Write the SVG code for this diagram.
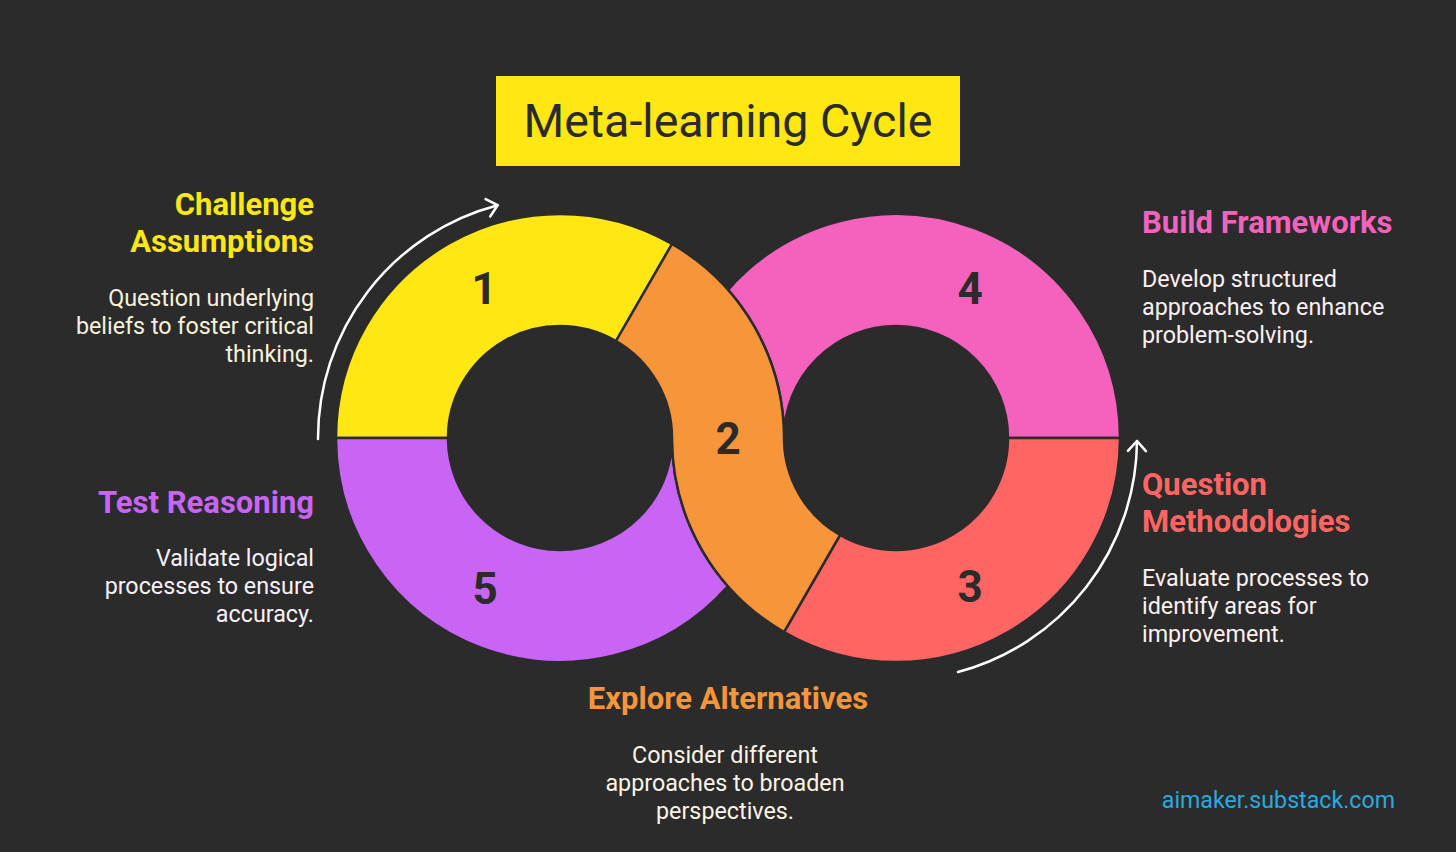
<svg xmlns="http://www.w3.org/2000/svg" width="1456" height="852" viewBox="0 0 1456 852">
<defs>
<style>
.seg{stroke:#2b2b2b;stroke-width:2.5;stroke-linejoin:round}
.num{font-family:Roboto,"Liberation Sans",sans-serif;font-weight:700;font-size:44px;fill:#2b2b2b;text-anchor:middle}
.head{font-family:Roboto,"Liberation Sans",sans-serif;font-weight:700;font-size:31px}
.desc{font-family:Roboto,"Liberation Sans",sans-serif;font-size:23.3px}
.r{text-anchor:end}
.m{text-anchor:middle}
.arrow{fill:none;stroke:#ffffff;stroke-width:2.5;stroke-linecap:round}
</style>
<marker id="chev" markerUnits="userSpaceOnUse" markerWidth="30" markerHeight="30" refX="0" refY="0" viewBox="-15 -15 30 30" orient="auto" overflow="visible">
<path d="M -10 -9 L 0 0 L -10 9" fill="none" stroke="#ffffff" stroke-width="2.5" stroke-linecap="round" stroke-linejoin="round"/>
</marker>
</defs>
<rect width="1456" height="852" fill="#2b2b2b"/>

<g id="title">
<rect x="496" y="76" width="464" height="90" fill="#ffe714"/>
<text x="728" y="137" font-family="Roboto,'Liberation Sans',sans-serif" font-size="46.6" fill="#2b2b2b" text-anchor="middle">Meta-learning Cycle</text>
</g>

<g id="seg1">
<path class="seg" fill="#ffe714" d="M 336 438 A 224 224 0 0 1 672 244 L 616 341 A 112 112 0 0 0 448 438 Z"/>
<text class="num" x="484" y="304">1</text>
</g>
<g id="seg5">
<path class="seg" fill="#c965f5" d="M 336 438 A 224 224 0 0 0 728 586.2 A 224 224 0 0 1 672 438 A 112 112 0 0 1 448 438 Z"/>
<text class="num" x="485" y="604">5</text>
</g>
<g id="seg4">
<path class="seg" fill="#f462be" d="M 1120 438 A 224 224 0 0 0 728 289.8 A 224 224 0 0 1 784 438 A 112 112 0 0 1 1008 438 Z"/>
<text class="num" x="970" y="304">4</text>
</g>
<g id="seg3">
<path class="seg" fill="#ff6663" d="M 784 632 A 224 224 0 0 0 1120 438 L 1008 438 A 112 112 0 0 1 840 535 Z"/>
<text class="num" x="970" y="602">3</text>
</g>
<g id="seg2">
<path class="seg" fill="#f7953a" d="M 672 244 A 224 224 0 0 1 784 438 A 112 112 0 0 0 840 535 L 784 632 A 224 224 0 0 1 672 438 A 112 112 0 0 0 616 341 Z"/>
<text class="num" x="728" y="454">2</text>
</g>

<g id="connectors">
<path class="arrow" marker-end="url(#chev)" d="M 318 439 A 241 241 0 0 1 497.6 205.2"/>
<path class="arrow" marker-end="url(#chev)" d="M 958 672 A 241 241 0 0 0 1137 441"/>
</g>

<g id="label-challenge">
<text class="head r" fill="#ffe714" x="314" y="215">Challenge</text>
<text class="head r" fill="#ffe714" x="314" y="252">Assumptions</text>
<text class="desc r" fill="#f8f2dc" x="314" y="306">Question underlying</text>
<text class="desc r" fill="#f8f2dc" x="314" y="334">beliefs to foster critical</text>
<text class="desc r" fill="#f8f2dc" x="314" y="362">thinking.</text>
</g>
<g id="label-test">
<text class="head r" fill="#c965f5" x="314" y="513">Test Reasoning</text>
<text class="desc r" fill="#f9f1fb" x="314" y="566">Validate logical</text>
<text class="desc r" fill="#f9f1fb" x="314" y="594">processes to ensure</text>
<text class="desc r" fill="#f9f1fb" x="314" y="622">accuracy.</text>
</g>
<g id="label-build">
<text class="head" fill="#f462be" x="1142" y="233">Build Frameworks</text>
<text class="desc" fill="#fbf0f7" x="1142" y="287">Develop structured</text>
<text class="desc" fill="#fbf0f7" x="1142" y="315">approaches to enhance</text>
<text class="desc" fill="#fbf0f7" x="1142" y="343">problem-solving.</text>
</g>
<g id="label-question">
<text class="head" fill="#ff6663" x="1142" y="495">Question</text>
<text class="head" fill="#ff6663" x="1142" y="532">Methodologies</text>
<text class="desc" fill="#fff1f0" x="1142" y="586">Evaluate processes to</text>
<text class="desc" fill="#fff1f0" x="1142" y="614">identify areas for</text>
<text class="desc" fill="#fff1f0" x="1142" y="642">improvement.</text>
</g>
<g id="label-explore">
<text class="head m" fill="#f7953a" x="728" y="709">Explore Alternatives</text>
<text class="desc m" fill="#fdf4e8" x="725" y="763">Consider different</text>
<text class="desc m" fill="#fdf4e8" x="725" y="791">approaches to broaden</text>
<text class="desc m" fill="#fdf4e8" x="725" y="819">perspectives.</text>
</g>
<text x="1395" y="808" font-family="Roboto,'Liberation Sans',sans-serif" font-size="23.2" fill="#29a9e0" text-anchor="end">aimaker.substack.com</text>
</svg>
